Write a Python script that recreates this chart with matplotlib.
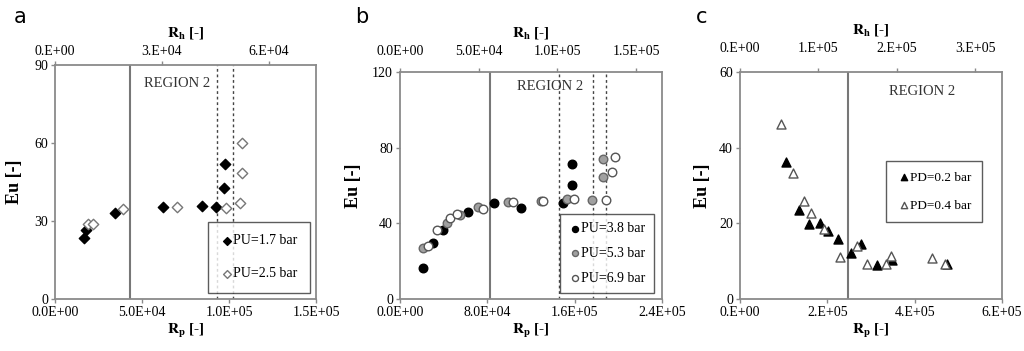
import matplotlib
matplotlib.use("Agg")
import matplotlib.pyplot as plt
from matplotlib.ticker import FuncFormatter

plt.rcParams['font.family'] = ['Liberation Serif', 'DejaVu Serif']
plt.rcParams['mathtext.fontset'] = 'stix'

# ---------------- data ----------------
# panel a
a_pu17_rp = [1.67e4, 1.78e4, 3.45e4, 6.23e4, 8.43e4, 9.25e4, 9.73e4, 9.77e4]
a_pu17_eu = [23.3, 26.5, 33.2, 35.5, 35.8, 35.3, 42.8, 51.8]
a_pu25_rp = [1.92e4, 2.16e4, 3.89e4, 6.99e4, 9.83e4, 1.063e5, 1.077e5, 1.077e5]
a_pu25_eu = [28.7, 28.7, 34.7, 35.5, 35.1, 37.0, 48.6, 59.9]
a_solid = [4.31e4]
a_dashed = [9.29e4, 1.025e5]
a_xticks = [0, 5e4, 1e5, 1.5e5]
a_yticks = [0, 30, 60, 90]
a_rh_ticks = [0, 3e4, 6e4]
a_rh_max = 7.32e4

# panel b
b_pu38_rp = [2.14e4, 3.05e4, 3.97e4, 6.26e4, 8.64e4, 1.108e5, 1.496e5, 1.572e5, 1.572e5]
b_pu38_eu = [16.5, 29.8, 36.5, 46.2, 50.6, 48.3, 50.9, 60.3, 71.2]
b_pu53_rp = [2.14e4, 4.27e4, 5.5e4, 7.17e4, 9.86e4, 1.289e5, 1.527e5, 1.761e5, 1.856e5, 1.856e5]
b_pu53_eu = [26.8, 40.0, 44.2, 48.8, 51.3, 52.0, 52.7, 52.3, 64.3, 73.8]
b_pu69_rp = [2.6e4, 3.36e4, 4.58e4, 5.2e4, 7.57e4, 1.032e5, 1.307e5, 1.597e5, 1.887e5, 1.939e5, 1.969e5]
b_pu69_eu = [28.0, 36.5, 42.7, 45.0, 47.4, 51.3, 52.0, 52.7, 52.3, 67.3, 75.2]
b_solid = [8.24e4]
b_dashed = [1.46e5, 1.765e5, 1.887e5]
b_xticks = [0, 8e4, 1.6e5, 2.4e5]
b_yticks = [0, 40, 80, 120]
b_rh_ticks = [0, 5e4, 1e5, 1.5e5]
b_rh_max = 1.665e5

# panel c
c_pd02_rp = [1.053e5, 1.359e5, 1.587e5, 1.832e5, 2.023e5, 2.252e5, 2.535e5, 2.771e5, 3.13e5, 3.474e5, 4.74e5]
c_pd02_eu = [36.3, 23.5, 19.8, 20.2, 18.1, 15.8, 12.1, 14.5, 9.0, 10.3, 9.2]
c_pd04_rp = [9.31e4, 1.206e5, 1.473e5, 1.619e5, 1.924e5, 2.29e5, 2.687e5, 2.901e5, 3.344e5, 3.451e5, 4.39e5, 4.695e5]
c_pd04_eu = [46.3, 33.4, 26.0, 22.7, 18.4, 11.2, 14.0, 9.2, 9.2, 11.4, 10.8, 9.25]
c_solid = [2.47e5]
c_dashed = []
c_xticks = [0, 2e5, 4e5, 6e5]
c_yticks = [0, 20, 40, 60]
c_rh_ticks = [0, 1e5, 2e5, 3e5]
c_rh_max = 3.34e5

# ---------------- figure ----------------
fig = plt.figure(figsize=(10.24, 3.51), dpi=100)
W, H = 1024, 351


def px_axes(x0, y0, x1, y1):
    return fig.add_axes([x0 / W, 1 - y1 / H, (x1 - x0) / W, (y1 - y0) / H])


spine_col = '#8a8a8a'
tick_fs = 10


def sci_fmt(short):
    def f(v, pos):
        if v == 0:
            return '0.E+00' if short else '0.0E+00'
        exp = int(f"{v:e}".split('e')[1])
        mant = v / 10 ** exp
        if short:
            return f"{mant:.0f}.E+{exp:02d}"
        return f"{mant:.1f}E+{exp:02d}"
    return FuncFormatter(f)


def setup(ax, xmax, ymax, xticks, yticks, rh_max, rh_ticks, solid, dashed,
          bot_short, top_short, region_xy, letter, letter_x, top_pad, ylab_pad):
    ax.set_xlim(0, xmax)
    ax.set_ylim(0, ymax)
    ax.set_xticks(xticks)
    ax.set_yticks(yticks)
    ax.xaxis.set_major_formatter(sci_fmt(bot_short))
    for s in ax.spines.values():
        s.set_color(spine_col)
        s.set_linewidth(1.3)
    ax.tick_params(axis='both', labelsize=tick_fs, color=spine_col, length=3,
                   width=1, direction='out', pad=2)
    for v in solid:
        ax.axvline(v, color='#777777', lw=1.5, zorder=1)
    for v in dashed:
        ax.axvline(v, color='#444444', lw=1.0, ls=(0, (2, 2)), zorder=1)
    ax.set_xlabel(r'$\mathbf{R_p}$ [-]', fontsize=11, fontweight='bold', labelpad=2)
    ax.set_ylabel('Eu [-]', fontsize=13, fontweight='bold', labelpad=ylab_pad)
    ax2 = ax.twiny()
    ax2.set_xlim(0, rh_max)
    ax2.set_xticks(rh_ticks)
    ax2.xaxis.set_major_formatter(sci_fmt(top_short))
    ax2.tick_params(axis='x', labelsize=tick_fs, color=spine_col, length=3,
                    width=1, direction='out', pad=top_pad)
    for s in ax2.spines.values():
        s.set_visible(False)
    ax2.set_xlabel(r'$\mathbf{R_h}$ [-]', fontsize=11, fontweight='bold', labelpad=6)
    ax.text(region_xy[0], region_xy[1], 'REGION 2', transform=ax.transAxes,
            fontsize=10.5, color='#333333', ha='center', va='center')
    fig.text(letter_x / W, 1 - 17 / H, letter, fontsize=15, family='DejaVu Sans',
             ha='center', va='center')
    return ax2


# panel a
axa = px_axes(55, 65, 316, 299)
setup(axa, 1.5e5, 90, a_xticks, a_yticks, a_rh_max, a_rh_ticks, a_solid, a_dashed,
      False, True, (0.467, 0.92), 'a', 20, 2, 8)
axa.scatter(a_pu17_rp, a_pu17_eu, marker='D', s=28, c='black', edgecolors='black',
            zorder=3, label='PU=1.7 bar')
axa.scatter(a_pu25_rp, a_pu25_eu, marker='D', s=28, c='white', edgecolors='#777777',
            linewidths=1, zorder=3, label='PU=2.5 bar')
leg = axa.legend(loc='lower right', fontsize=10, frameon=True, fancybox=False,
                 edgecolor='#333333', handletextpad=0.0, handlelength=0.9,
                 labelspacing=1.45, borderpad=0.9, markerscale=0.75,
                 borderaxespad=0, bbox_to_anchor=(0.977, 0.026))
leg.get_frame().set_linewidth(1.0)

# panel b
axb = px_axes(400, 72, 662, 299)
setup(axb, 2.4e5, 120, b_xticks, b_yticks, b_rh_max, b_rh_ticks, b_solid, b_dashed,
      False, False, (0.573, 0.934), 'b', 362, 7, 7)
axb.scatter(b_pu38_rp, b_pu38_eu, marker='o', s=38, c='black', edgecolors='black',
            zorder=3, label='PU=3.8 bar')
axb.scatter(b_pu53_rp, b_pu53_eu, marker='o', s=38, c='#a0a0a0', edgecolors='#666666',
            linewidths=1, zorder=3, label='PU=5.3 bar')
axb.scatter(b_pu69_rp, b_pu69_eu, marker='o', s=38, c='white', edgecolors='#555555',
            linewidths=1, zorder=3, label='PU=6.9 bar')
leg = axb.legend(loc='lower right', fontsize=10, frameon=True, fancybox=False,
                 edgecolor='#333333', handletextpad=0.0, handlelength=0.9,
                 labelspacing=0.85, borderpad=0.6, markerscale=0.7,
                 borderaxespad=0, bbox_to_anchor=(0.969, 0.026))
leg.get_frame().set_linewidth(1.0)

# panel c
axc = px_axes(740, 72, 1002, 299)
setup(axc, 6e5, 60, c_xticks, c_yticks, c_rh_max, c_rh_ticks, c_solid, c_dashed,
      True, True, (0.695, 0.916), 'c', 702, 9, 6)
axc.scatter(c_pd02_rp, c_pd02_eu, marker='^', s=42, c='black', edgecolors='black',
            zorder=3, label='PD=0.2 bar')
axc.scatter(c_pd04_rp, c_pd04_eu, marker='^', s=42, c='white', edgecolors='#555555',
            linewidths=1, zorder=3, label='PD=0.4 bar')
leg = axc.legend(loc='upper right', fontsize=9.5, frameon=True, fancybox=False,
                 edgecolor='#333333', handletextpad=0.0, handlelength=1.0,
                 labelspacing=1.2, borderpad=0.8, markerscale=0.7,
                 borderaxespad=0, bbox_to_anchor=(0.924, 0.608))
leg.get_frame().set_linewidth(1.0)

fig.savefig('out.png', dpi=100)
